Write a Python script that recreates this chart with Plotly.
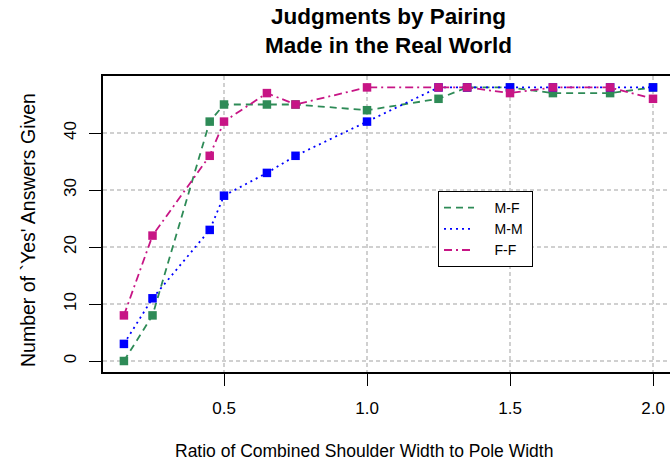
import plotly.graph_objects as go

# Ratio of combined shoulder width to pole width
ratio = [0.15, 0.25, 0.45, 0.5, 0.65, 0.75, 1.0, 1.25, 1.35, 1.5, 1.65, 1.85, 2.0]

# Number of "yes" answers per pairing
yes_mf = [0, 8, 42, 45, 45, 45, 44, 46, 48, 48, 47, 47, 48]
yes_mm = [3, 11, 23, 29, 33, 36, 42, 48, 48, 48, 48, 48, 48]
yes_ff = [8, 22, 36, 42, 47, 45, 48, 48, 48, 47, 48, 48, 46]

series_names = ["M-F", "M-M", "F-F"]
series_values = [yes_mf, yes_mm, yes_ff]
series_colors = ["#2E8B57", "#0000FF", "#C71585"]
series_dash = ["7px,5px", "2px,4px", "8px,4px,2px,4px"]

x_ticks = [0.5, 1.0, 1.5, 2.0]
y_ticks = [0, 10, 20, 30, 40]

FONT = "Liberation Sans, Arial, Helvetica, sans-serif"
NBSP = "\u00a0"

fig = go.Figure()

# data lines with square markers
for name, vals, col, dash in zip(series_names, series_values, series_colors, series_dash):
    fig.add_trace(go.Scatter(
        x=ratio, y=vals, mode="lines+markers", name=name,
        line=dict(color=col, width=1.8, dash=dash),
        marker=dict(symbol="square", size=8.5, color=col, line=dict(width=0)),
        showlegend=False, cliponaxis=False,
    ))

# legend entries show only the line style
for name, col, dash in zip(series_names, series_colors, series_dash):
    fig.add_trace(go.Scatter(
        x=[None], y=[None], mode="lines", name=NBSP * 4 + name + NBSP,
        line=dict(color=col, width=1.8, dash=dash),
    ))

grid = dict(showgrid=True, gridcolor="#D0D0D0", gridwidth=2, griddash="4px,3px")

fig.update_layout(
    width=670, height=465,
    margin=dict(l=103, r=0, t=76, b=93),
    paper_bgcolor="white", plot_bgcolor="white",
    font=dict(family=FONT, color="black"),
    xaxis=dict(
        range=[0.0769, 2.0594], tickvals=x_ticks, ticktext=["0.5", "1.0", "1.5", "2.0"],
        ticks="outside", ticklen=12, tickwidth=1, tickcolor="black",
        tickfont=dict(size=17), showline=True, linecolor="black", linewidth=1.5,
        mirror=True, zeroline=False, ticklabelstandoff=8, **grid,
    ),
    yaxis=dict(
        range=[-1.93, 50.0], tickvals=y_ticks,
        ticks="outside", ticklen=12, tickwidth=1, tickcolor="black",
        tickfont=dict(size=17), tickangle=-90, showline=True, linecolor="black",
        linewidth=1.5, zeroline=False, ticklabelstandoff=6, **grid,
    ),
    legend=dict(
        x=(438 - 103) / 567, y=(372 - 191) / 296, xanchor="left", yanchor="top",
        bgcolor="white", bordercolor="black", borderwidth=1,
        font=dict(size=14), tracegroupgap=0,
    ),
    annotations=[
        dict(text="<b>Judgments by Pairing</b><br><b>Made in the Real World</b>",
             xref="paper", yref="paper", x=(388 - 103) / 567, y=(372 - 31.5) / 296,
             xanchor="center", yanchor="middle", showarrow=False,
             font=dict(size=22.5, color="black")),
        dict(text="Ratio of Combined Shoulder Width to Pole Width",
             xref="paper", yref="paper", x=(364 - 103) / 567, y=(372 - 451) / 296,
             xanchor="center", yanchor="middle", showarrow=False,
             font=dict(size=17.5, color="black")),
        dict(text="Number of `Yes' Answers Given", textangle=-90,
             xref="paper", yref="paper", x=(28 - 103) / 567, y=(372 - 230) / 296,
             xanchor="center", yanchor="middle", showarrow=False,
             font=dict(size=19.5, color="black")),
    ],
)

fig.write_html("out.html")
